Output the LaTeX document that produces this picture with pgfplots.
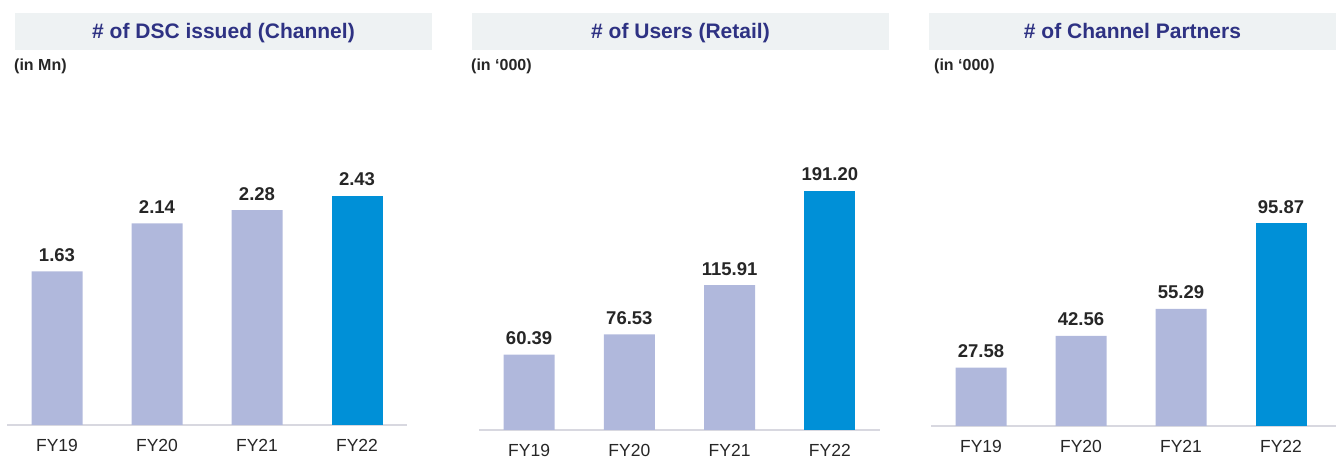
\documentclass[border=0pt]{standalone}
\usepackage{pgfplots}
\pgfplotsset{compat=1.18}
\usepackage{fontspec}
\setmainfont{Liberation Sans}
\definecolor{titlebg}{HTML}{EEF2F3}
\definecolor{titlefg}{HTML}{2E3283}
\definecolor{barlight}{HTML}{B0B8DC}
\definecolor{barblue}{HTML}{0090D7}
\definecolor{valfg}{HTML}{262626}
\definecolor{axisln}{HTML}{D8D8E0}
\pgfplotsset{
  panel/.style={
    scale only axis, height=300pt, ymin=0, xmin=-0.5, xmax=3.5,
    axis x line=bottom, axis y line=none,
    x axis line style={-, draw=axisln, line width=1.5pt},
    xtick={0,1,2,3}, xticklabels={FY19,FY20,FY21,FY22},
    major tick length=0pt,
    xticklabel style={font=\fontsize{17.5}{20}\selectfont, text=valfg, yshift=-10.5pt},
    ybar, bar width=51pt, clip=false,
    point meta=explicit symbolic,
    nodes near coords,
    every node near coord/.append style={font=\bfseries\fontsize{18.5}{22}\selectfont, text=valfg, anchor=base, inner sep=0pt, yshift=10pt},
  },
  lightbar/.style={fill=barlight, draw=none, bar shift=0pt},
  bluebar/.style={fill=barblue, draw=none, bar shift=0pt},
}
\begin{document}
\begin{tikzpicture}[x=1pt,y=1pt]
\useasboundingbox (0,0) rectangle (1336,457);
% title boxes
\fill[titlebg] (15,407) rectangle (432,444);
\fill[titlebg] (472,407) rectangle (889,444);
\fill[titlebg] (929,407) rectangle (1336,444);
\node[anchor=base, inner sep=0pt, text=titlefg, font=\bfseries\fontsize{21}{25}\selectfont] at (223.5,418) {\# of DSC issued (Channel)};
\node[anchor=base, inner sep=0pt, text=titlefg, font=\bfseries\fontsize{21}{25}\selectfont] at (680.5,418) {\# of Users (Retail)};
\node[anchor=base, inner sep=0pt, text=titlefg, font=\bfseries\fontsize{21}{25}\selectfont] at (1132.5,418) {\# of Channel Partners};
\node[anchor=base west, inner sep=0pt, text=valfg, font=\bfseries\fontsize{16}{19}\selectfont] at (14,386) {(in Mn)};
\node[anchor=base west, inner sep=0pt, text=valfg, font=\bfseries\fontsize{16}{19}\selectfont] at (471,386) {(in ‘000)};
\node[anchor=base west, inner sep=0pt, text=valfg, font=\bfseries\fontsize{16}{19}\selectfont] at (934,386) {(in ‘000)};

\begin{axis}[panel, at={(7pt,32pt)}, anchor=south west, width=400pt, ymax=3.183]
\addplot[lightbar] coordinates {(0,1.63) [1.63] (1,2.14) [2.14] (2,2.28) [2.28]};
\addplot[bluebar] coordinates {(3,2.43) [2.43]};
\end{axis}

\begin{axis}[panel, at={(479pt,27pt)}, anchor=south west, width=401pt, ymax=240]
\addplot[lightbar] coordinates {(0,60.39) [60.39] (1,76.53) [76.53] (2,115.91) [115.91]};
\addplot[bluebar] coordinates {(3,191.20) [191.20]};
\end{axis}

\begin{axis}[panel, at={(931pt,31pt)}, anchor=south west, width=405pt, xmax=3.55, ymax=141.7]
\addplot[lightbar] coordinates {(0,27.58) [27.58] (1,42.56) [42.56] (2,55.29) [55.29]};
\addplot[bluebar] coordinates {(3,95.87) [95.87]};
\end{axis}
\end{tikzpicture}
\end{document}
